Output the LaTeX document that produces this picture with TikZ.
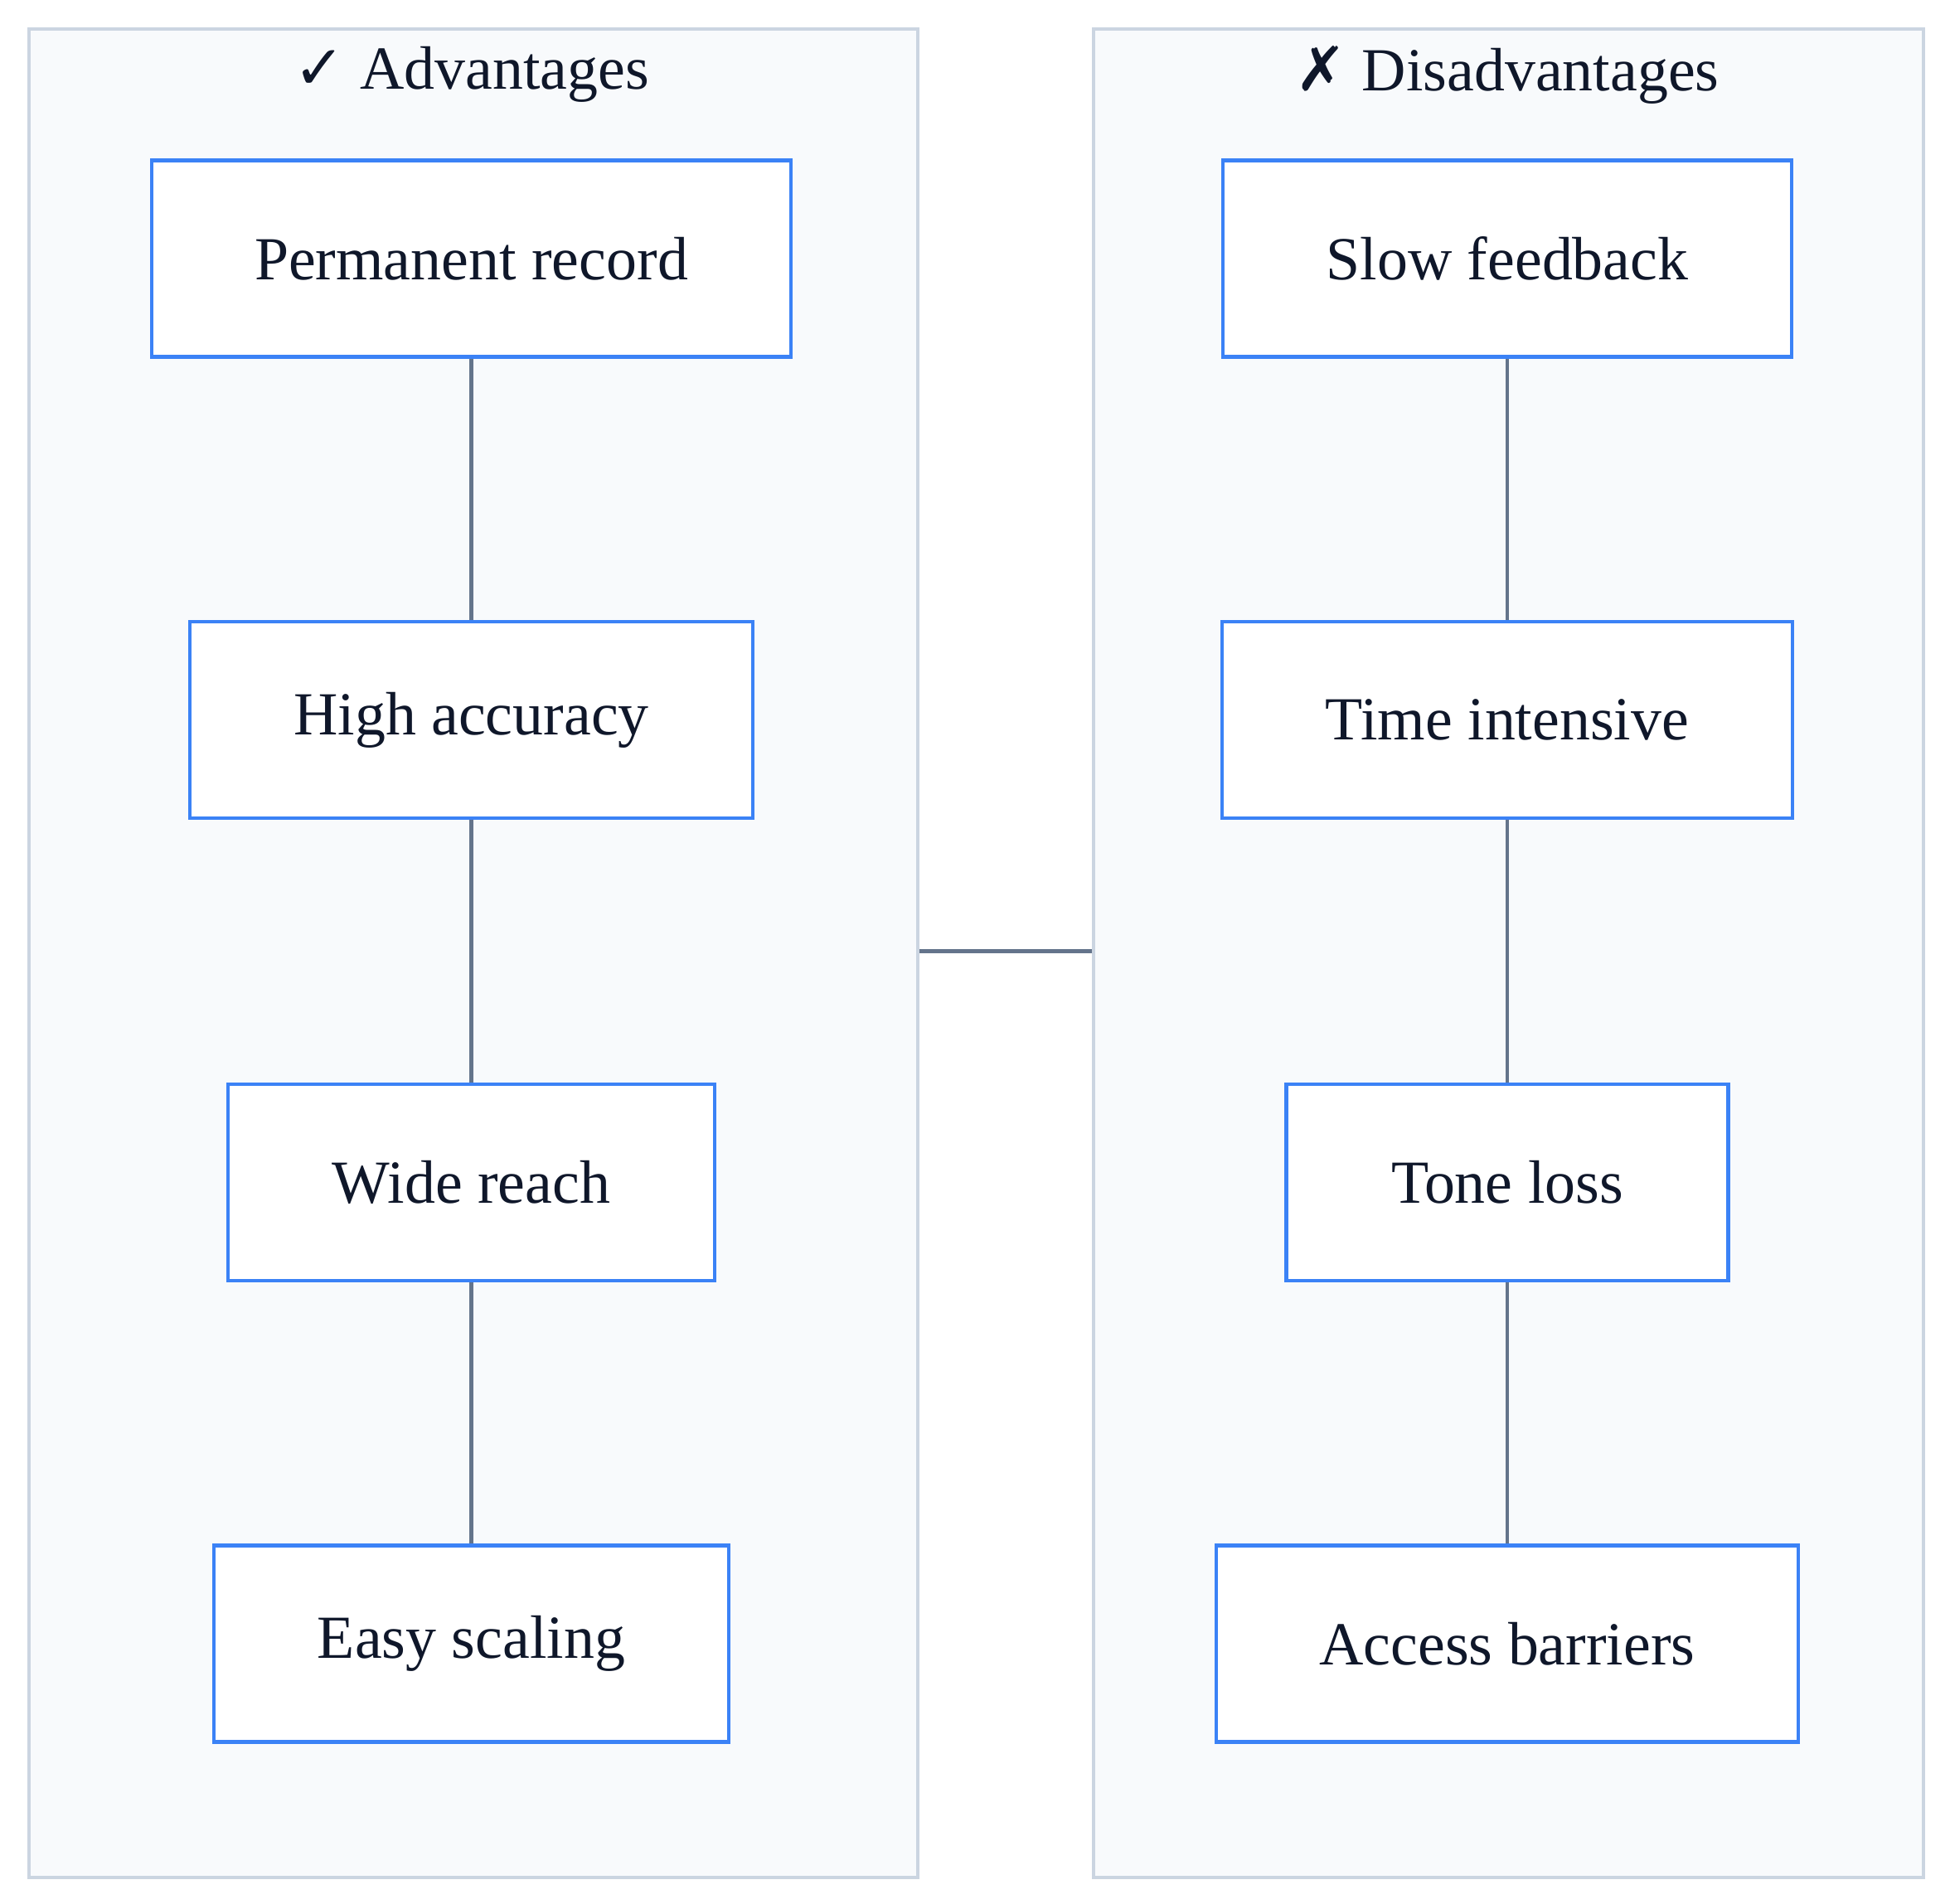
\documentclass[tikz,border=0pt]{standalone}
\usepackage{fontspec}
\setmainfont{Liberation Serif}
\newfontfamily\symfont{DejaVu Sans}
\usepackage{xcolor}
\usetikzlibrary{positioning}
\definecolor{panelfill}{HTML}{F8FAFC}
\definecolor{paneldraw}{HTML}{CBD5E1}
\definecolor{boxdraw}{HTML}{3B82F6}
\definecolor{linkcol}{HTML}{64748B}
\definecolor{inkcol}{HTML}{0F172A}
\begin{document}
\begin{tikzpicture}[x=0.01cm,y=-0.01cm,thin]

                \tikzset{panel/.style={draw=paneldraw, fill=panelfill, line width=0.8pt},
                         item/.style={draw=boxdraw, fill=white, line width=0.8pt, minimum height=1.58cm,
                                      inner sep=0pt, font=\fontsize{14}{16}\selectfont, text=inkcol},
                         title/.style={font=\fontsize{14}{16}\selectfont, text=inkcol},
                         link/.style={draw=linkcol, line width=0.8pt}}

                \useasboundingbox (0,0) rectangle (1568,1531);

                \node[panel, minimum width=7.14cm, minimum height=14.86cm, anchor=north west] (L) at (22,22) {};
                \node[panel, minimum width=6.67cm, minimum height=14.86cm, anchor=north west] (R) at (878,22) {};
                \node[title] (Lt) at (379,60) {{\symfont\char"2713}\ Advantages};
                \node[title] (Rt) at (1212,60) {{\symfont\char"2717}\ Disadvantages};

                \node[item, minimum width=5.14cm] (A1) at (379,208) {Permanent record};
                \node[item, minimum width=4.52cm] (A2) at (379,579) {High accuracy};
                \node[item, minimum width=3.91cm] (A3) at (379,951) {Wide reach};
                \node[item, minimum width=4.14cm] (A4) at (379,1322) {Easy scaling};

                \node[item, minimum width=4.57cm] (D1) at (1212,208) {Slow feedback};
                \node[item, minimum width=4.58cm] (D2) at (1212,579) {Time intensive};
                \node[item, minimum width=3.55cm] (D3) at (1212,951) {Tone loss};
                \node[item, minimum width=4.68cm] (D4) at (1212,1322) {Access barriers};

                \path[link] (A1) -- (A2);
                \path[link] (A2) -- (A3);
                \path[link] (A3) -- (A4);
                \path[link] (D1) -- (D2);
                \path[link] (D2) -- (D3);
                \path[link] (D3) -- (D4);
                \path[link] (L.east |- 0,765) -- (R.west |- 0,765);
            \end{tikzpicture}
\end{document}
